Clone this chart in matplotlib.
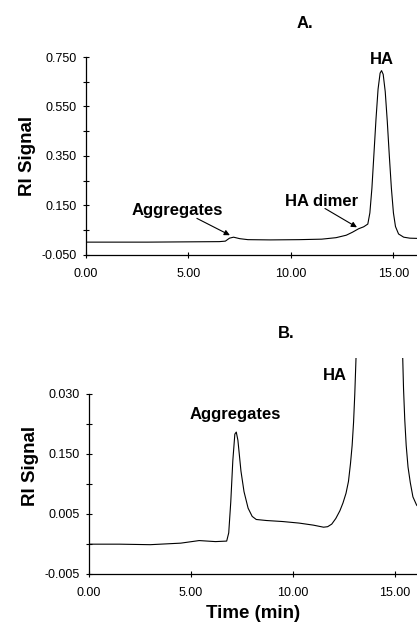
# this file draws the two RI chromatogram panels (A and B)
import numpy as np
import matplotlib
matplotlib.use("Agg")
import matplotlib.pyplot as plt
from matplotlib.ticker import FixedLocator

plt.rcParams['font.family'] = ['Liberation Sans', 'DejaVu Sans']

# panel A: full chromatogram (time in min, RI signal)
time_a = [0.0, 3.0, 6.5, 6.8, 7.0, 7.2, 7.5, 7.9, 9.0, 10.4, 11.5, 12.2, 12.7,
          13.0, 13.3, 13.55, 13.75, 13.85, 13.95, 14.05, 14.15, 14.25, 14.35,
          14.42, 14.5, 14.6, 14.7, 14.8, 14.9, 15.0, 15.1, 15.25, 15.5, 15.8, 16.2]
signal_a = [0.002, 0.002, 0.004, 0.006, 0.018, 0.022, 0.016, 0.012, 0.011, 0.012,
            0.014, 0.020, 0.030, 0.042, 0.056, 0.064, 0.075, 0.120, 0.220, 0.360,
            0.500, 0.620, 0.685, 0.695, 0.680, 0.610, 0.490, 0.350, 0.220, 0.120,
            0.065, 0.035, 0.022, 0.018, 0.017]

# panel B: zoomed in on the aggregates peak
time_b = [0.0, 1.5, 3.0, 4.5, 5.4, 6.2, 6.75, 6.85, 6.95, 7.05, 7.15, 7.22, 7.3,
          7.45, 7.6, 7.8, 8.0, 8.2, 8.7, 9.5, 10.3, 11.0, 11.5, 11.7, 11.9, 12.1,
          12.3, 12.45, 12.6, 12.72, 12.82, 12.9, 12.97, 13.03, 13.09, 13.15, 13.6,
          14.4, 15.2, 15.3, 15.38, 15.42, 15.48, 15.55, 15.64, 15.75, 15.88, 16.06,
          16.2]
signal_b = [0.0008, 0.0008, 0.0007, 0.0010, 0.0015, 0.0013, 0.0014, 0.0030, 0.0090,
            0.0170, 0.0222, 0.0226, 0.0210, 0.0150, 0.0110, 0.0078, 0.0062, 0.0056,
            0.0054, 0.0052, 0.0049, 0.0045, 0.0041, 0.0042, 0.0047, 0.0058, 0.0073,
            0.0088, 0.0107, 0.0130, 0.0165, 0.0200, 0.0245, 0.0300, 0.0370, 0.0450,
            0.2000, 0.7000, 0.2000, 0.0600, 0.0370, 0.0310, 0.0250, 0.0200, 0.0158,
            0.0128, 0.0100, 0.0084, 0.0078]

xticks = [0, 5, 10, 15]
xtick_labels = ['0.00', '5.00', '10.00', '15.00']
yticks_a = [-0.05, 0.15, 0.35, 0.55, 0.75]
ytick_labels_a = ['-0.050', '0.150', '0.350', '0.550', '0.750']
ytick_labels_b = ['-0.005', '0.005', '0.150', '0.030']

fig = plt.figure(figsize=(4.17, 6.25), dpi=100)


def style_axes(ax):
    # old-style chromatogram axes: only left and bottom, ticks crossing the line
    ax.spines['top'].set_visible(False)
    ax.spines['right'].set_visible(False)
    for s in ['left', 'bottom']:
        ax.spines[s].set_linewidth(0.9)
    ax.tick_params(axis='both', which='both', direction='inout', length=5,
                   width=0.8, labelsize=9)
    ax.tick_params(axis='x', pad=7)
    ax.tick_params(axis='y', pad=4)
    ax.set_xticks(xticks)
    ax.set_xticklabels(xtick_labels)


def arrow(ax, start, end):
    # thin arrow drawn from exact start point to the peak
    ax.annotate('', xy=end, xytext=start,
                arrowprops=dict(arrowstyle='-|>', color='black', lw=0.8,
                                mutation_scale=8, shrinkA=0, shrinkB=0))


# ---- panel A ----
ax1 = fig.add_axes([86 / 417, 1 - 255 / 625, 1 - 86 / 417, (255 - 57) / 625])
ax1.plot(time_a, signal_a, color='black', lw=0.8)
ax1.set_xlim(0, 16.15)
ax1.set_ylim(-0.05, 0.75)
style_axes(ax1)
ax1.set_yticks(yticks_a)
ax1.set_yticklabels(ytick_labels_a)
ax1.yaxis.set_minor_locator(FixedLocator([0.05, 0.25, 0.45, 0.65]))
ax1.set_ylabel('RI Signal', fontsize=13.5, fontweight='bold', labelpad=4)

ax1.text(4.44, 0.13, 'Aggregates', ha='center', va='center', fontsize=12,
         fontweight='bold')
arrow(ax1, (5.41, 0.098), (7.02, 0.03))
ax1.text(11.51, 0.166, 'HA dimer', ha='center', va='center', fontsize=12,
         fontweight='bold')
arrow(ax1, (11.66, 0.138), (13.22, 0.062))
ax1.text(14.44, 0.738, 'HA', ha='center', va='center', fontsize=12,
         fontweight='bold')
fig.text(305 / 417, 1 - 23 / 625, 'A.', ha='center', va='center',
         fontsize=12, fontweight='bold')

# ---- panel B ----
ax2 = fig.add_axes([89 / 417, 1 - 574 / 625, 1 - 89 / 417, (574 - 358) / 625])
ax2.plot(time_b, signal_b, color='black', lw=0.8)
ax2.set_xlim(0, 16.08)
ax2.set_ylim(-0.005, 0.037)
style_axes(ax2)
yticks_b = np.linspace(-0.005, 0.030, 4)
ax2.set_yticks(yticks_b)
ax2.set_yticklabels(ytick_labels_b)
ax2.yaxis.set_minor_locator(FixedLocator((yticks_b[:-1] + yticks_b[1:]) / 2))
ax2.spines['left'].set_bounds(-0.005, 0.030)
ax2.set_ylabel('RI Signal', fontsize=13.5, fontweight='bold', labelpad=4)
ax2.set_xlabel('Time (min)', fontsize=13.5, fontweight='bold', labelpad=4)

ax2.text(7.16, 0.0261, 'Aggregates', ha='center', va='center', fontsize=12,
         fontweight='bold')
ax2.text(12.06, 0.0335, 'HA', ha='center', va='center', fontsize=12,
         fontweight='bold')
fig.text(286 / 417, 1 - 333 / 625, 'B.', ha='center', va='center',
         fontsize=12, fontweight='bold')

fig.savefig('out.png', dpi=100)
